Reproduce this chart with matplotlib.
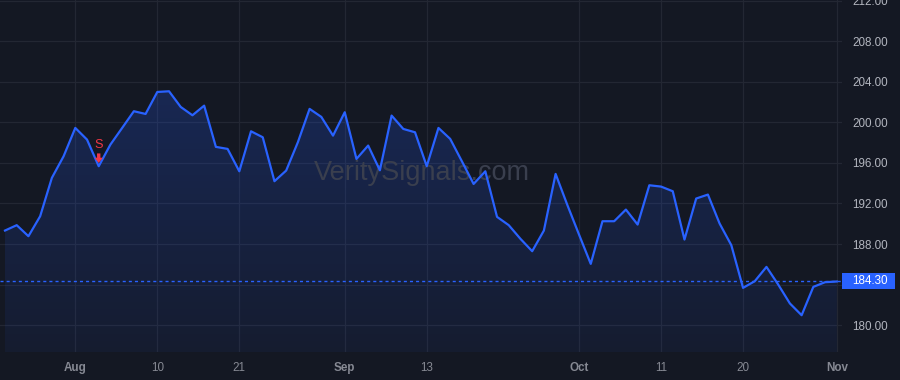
import numpy as np
import pandas as pd
import matplotlib
matplotlib.use("Agg")
import matplotlib.pyplot as plt
from matplotlib.colors import LinearSegmentedColormap
from matplotlib.patches import Rectangle, Polygon
from matplotlib.transforms import IdentityTransform

plt.rcParams["font.family"] = ["Liberation Sans", "DejaVu Sans"]

# trading days Jul 24 - Nov 1 2023 (Labor Day closed)
days = pd.bdate_range("2023-07-24", "2023-11-01")
days = days[days != pd.Timestamp("2023-09-04")]

prices = [189.33, 189.86, 188.77, 190.74, 194.53, 196.66, 199.46, 198.31, 195.68, 197.82,
          199.46, 201.11, 200.84, 203.01, 203.08, 201.53, 200.71, 201.66, 197.59, 197.39,
          195.18, 199.13, 198.54, 194.20, 195.25, 198.05, 201.34, 200.55, 198.70, 201.01,
          196.40, 197.72, 195.28, 200.68, 199.36, 199.03, 195.68, 199.46, 198.38, 196.17,
          193.93, 195.18, 190.68, 189.86, 188.51, 187.29, 189.33, 194.92, 191.86, 188.93,
          186.04, 190.25, 190.25, 191.40, 189.92, 193.80, 193.67, 193.21, 188.44, 192.49,
          192.88, 190.02, 187.88, 183.67, 184.33, 185.74, 184.00, 182.13, 180.97, 183.77,
          184.23, 184.30]

tick_dates = ["2023-08-01", "2023-08-10", "2023-08-21", "2023-09-01", "2023-09-13",
              "2023-10-02", "2023-10-11", "2023-10-20", "2023-11-01"]
tick_labels = ["Aug", "10", "21", "Sep", "13", "Oct", "11", "20", "Nov"]
month_labels = ["Aug", "Sep", "Oct", "Nov"]

signal_date = "2023-08-03"
signal_text = "S"
last_price = prices[-1]
y_ticks = [180, 184, 188, 192, 196, 200, 204, 208, 212]

bg = "#141823"
grid_c = "#232733"
line_c = "#2962ff"
red = "#f23645"

x = np.arange(len(prices))
y = np.array(prices)

fig = plt.figure(figsize=(9, 3.8), dpi=100, facecolor=bg)
ax = fig.add_axes([0.0, 0.0737, 0.9356, 0.9263])
ax.set_facecolor(bg)

ymin, ymax = 177.34, 212.09
xmin, xmax = -0.427, 71.45
ax.set_xlim(xmin, xmax)
ax.set_ylim(ymin, ymax)

# gradient fill under the line
poly = ax.fill_between(x, y, ymin, color="none", lw=0)
cmap = LinearSegmentedColormap.from_list("g", [(0.16, 0.38, 1.0, 0.06), (0.16, 0.38, 1.0, 0.22)])
grad = np.linspace(0, 1, 256).reshape(-1, 1)
im = ax.imshow(grad, cmap=cmap, origin="lower", aspect="auto",
               extent=[x[0], x[-1], ymin, max(prices)], zorder=1)
im.set_clip_path(poly.get_paths()[0], transform=ax.transData)

ax.plot(x, y, color=line_c, lw=1.6, zorder=3)

# last price line
ax.axhline(last_price, color=line_c, lw=1.0, ls=(0, (2.2, 2.2)), zorder=2)

# grid
tick_pos = [list(days).index(pd.Timestamp(d)) for d in tick_dates]
ax.set_xticks(tick_pos)
ax.set_xticklabels(tick_labels)
ax.set_yticks(y_ticks)
ax.set_yticklabels(["" if t == 184 else f"{t:.2f}" for t in y_ticks])
ax.grid(True, color=grid_c, lw=0.9, zorder=0)
ax.set_axisbelow(True)
for s in ax.spines.values():
    s.set_visible(False)

ax.yaxis.tick_right()
ax.tick_params(axis="y", length=0, pad=7.3, labelsize=8.4, labelcolor="#b2b5be")
ax.tick_params(axis="x", length=0, pad=7, labelsize=8.4, labelcolor="#868993")
for lab in ax.get_xticklabels():
    if lab.get_text() in month_labels:
        lab.set_fontweight("bold")

# price tag
ty = ax.transData.transform((0, last_price))[1] / fig.bbox.height
fig.patches.append(Rectangle((842 / 900, ty - 8 / 380), 53 / 900, 16 / 380,
                             transform=fig.transFigure, fc=line_c, ec="none"))
fig.text(852 / 900, ty, f"{last_price:.2f}", ha="left", va="center",
         fontsize=8.4, color="white")

# signal marker: down arrow drawn in pixel units above the point
si = list(days).index(pd.Timestamp(signal_date))
sv = prices[si]
px, py = ax.transData.transform((si, sv))
arrow = [(0, 3.3), (-4.2, 8.5), (-1.7, 8.5), (-1.7, 12.8), (1.7, 12.8), (1.7, 8.5), (4.2, 8.5)]
fig.patches.append(Polygon([(px + dx, py + dy) for dx, dy in arrow], closed=True,
                           transform=IdentityTransform(), fc=red, ec="none", zorder=5))
ax.annotate(signal_text, xy=(si, sv), xytext=(0, 15.3), textcoords="offset points",
            ha="center", va="center", fontsize=9.2, color=red, zorder=4)

# watermark
ax.text(0.501, 0.509, "VeritySignals.com", transform=ax.transAxes, ha="center", va="center",
        fontsize=19.5, color="#3a3f4e", zorder=2)

fig.savefig("out.png", dpi=100, facecolor=bg)
